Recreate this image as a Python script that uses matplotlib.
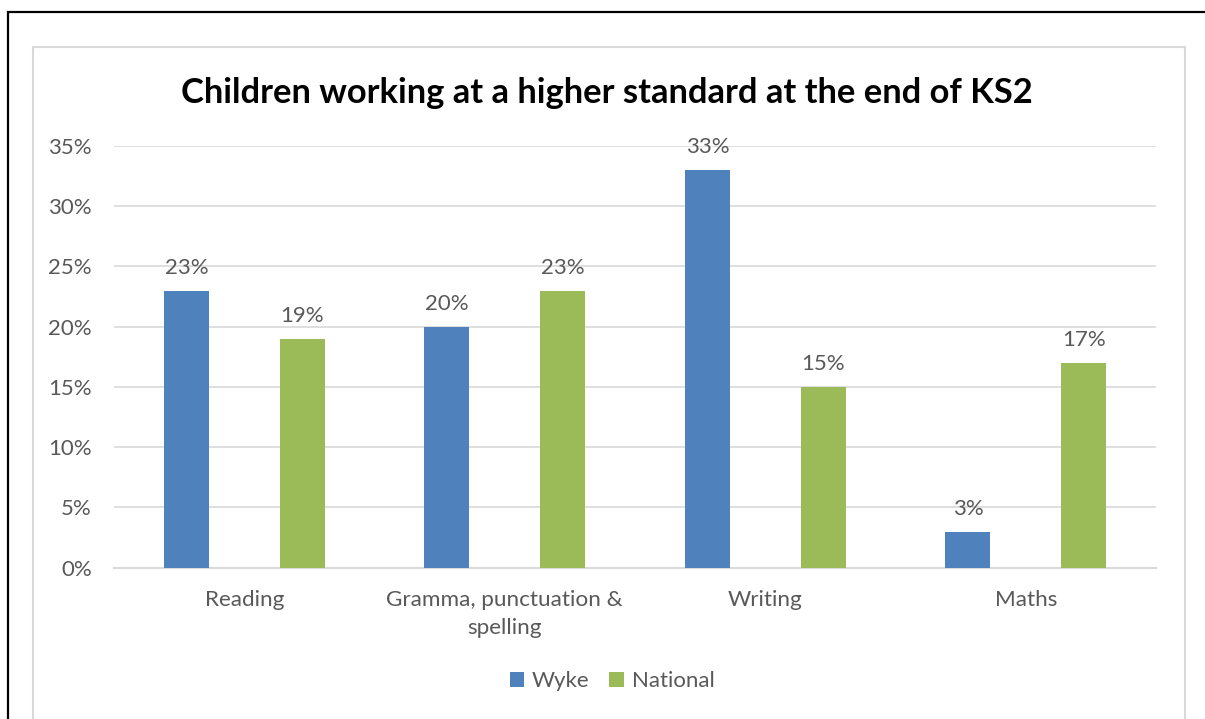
import matplotlib
matplotlib.use("Agg")
import matplotlib.pyplot as plt
from matplotlib.patches import Rectangle, Patch
import numpy as np

categories = ["Reading", "Gramma, punctuation &\nspelling", "Writing", "Maths"]
wyke = [23, 20, 33, 3]
national = [19, 23, 15, 17]
yticks = [0, 5, 10, 15, 20, 25, 30, 35]

BLUE = "#4F81BD"
GREEN = "#9BBB59"
TXT = "#595959"
GRID = "#D9D9D9"

plt.rcParams['font.family'] = ['Lato', 'DejaVu Sans']

W, H = 1205, 719
fig = plt.figure(figsize=(W / 100, H / 100), dpi=100)

# outer black border and inner gray chart border (figure pixel coords)
fig.patches.append(Rectangle((8 / W, -0.1), 1.2, (H - 12) / H + 0.1, transform=fig.transFigure,
                             fill=False, edgecolor="black", linewidth=1.6))
fig.patches.append(Rectangle((33 / W, -0.1), (1185 - 33) / W, (H - 47) / H + 0.1, transform=fig.transFigure,
                             fill=False, edgecolor=GRID, linewidth=1.5))

ax = fig.add_axes([114 / W, 1 - 567.7 / H, (1156 - 114) / W, (567.7 - 146) / H])
x = np.arange(len(categories))
bw = 0.173
off = 0.222
b1 = ax.bar(x - off, wyke, bw, color=BLUE, zorder=3)
b2 = ax.bar(x + off, national, bw, color=GREEN, zorder=3)

for bars, vals in ((b1, wyke), (b2, national)):
    for r, v in zip(bars, vals):
        ax.annotate(f"{v}%", (r.get_x() + r.get_width() / 2, v), xytext=(0, 13),
                    textcoords="offset pixels", ha="center", va="bottom",
                    fontsize=16, color=TXT)

ax.set_xlim(-0.5, len(categories) - 0.5)
ax.set_ylim(0, 35)
ax.set_yticks(yticks)
ax.set_yticklabels([f"{t}%" for t in yticks])
ax.set_xticks(x)
ax.set_xticklabels(categories, linespacing=1.5)
ax.tick_params(axis="y", length=0, pad=16, labelsize=16, labelcolor=TXT)
ax.tick_params(axis="x", length=0, pad=16, labelsize=16.2, labelcolor=TXT)
ax.yaxis.grid(True, color=GRID, linewidth=1.2, zorder=0)
ax.set_axisbelow(True)
for s in ("top", "right", "left"):
    ax.spines[s].set_visible(False)
ax.spines["bottom"].set_color(GRID)
ax.spines["bottom"].set_linewidth(1.5)
ax.spines["bottom"].set_zorder(2)

fig.text(607 / W, 1 - 93 / H, "Children working at a higher standard at the end of KS2",
         ha="center", va="center", fontsize=24.8, fontweight="bold", color="black")

handles = [Patch(facecolor=BLUE, label="Wyke"), Patch(facecolor=GREEN, label="National")]
fig.legend(handles=handles, loc="center", bbox_to_anchor=(612 / W, 1 - 681 / H), ncol=2,
           frameon=False, fontsize=16, labelcolor=TXT, handlelength=0.65, handleheight=0.65,
           handletextpad=0.35, columnspacing=0.9)

fig.savefig("out.png", dpi=100)
